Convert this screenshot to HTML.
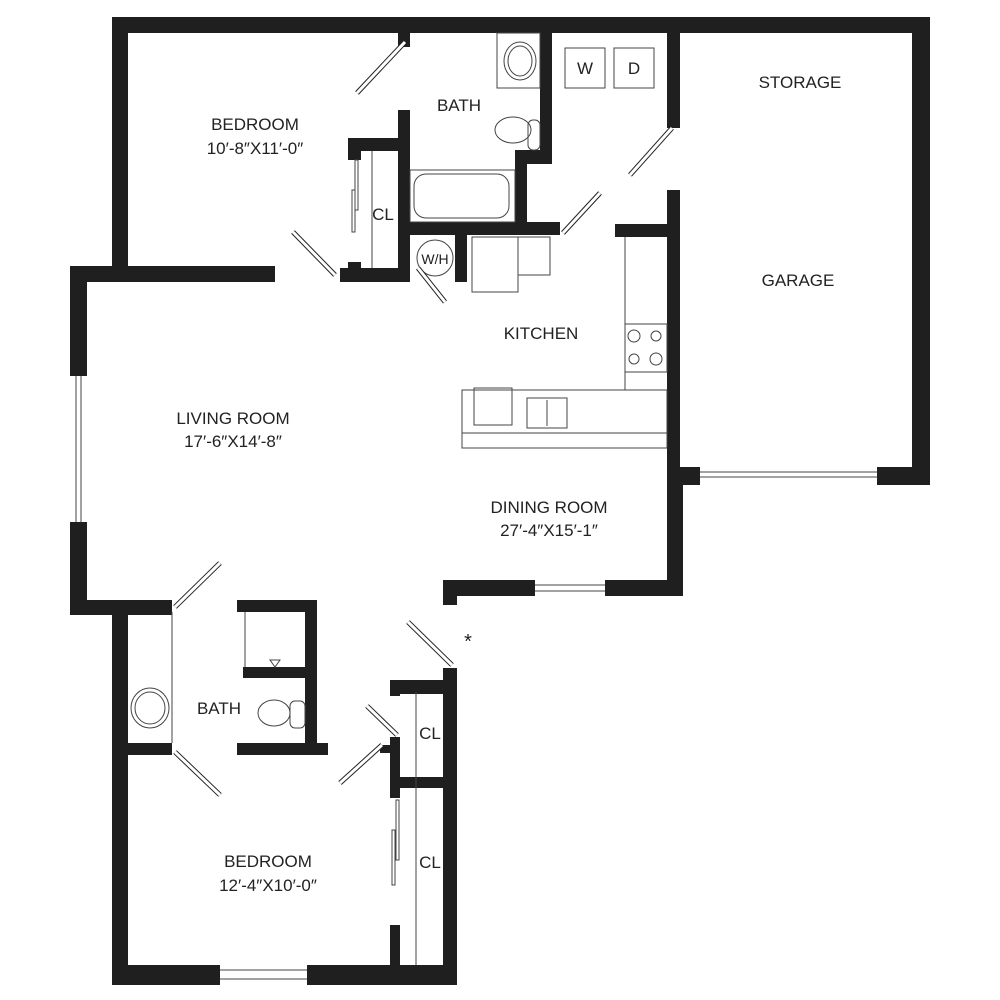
<!DOCTYPE html>
<html><head><style>
body{margin:0;background:#fff}
svg{display:block}
text{font-family:"Liberation Sans",sans-serif;font-size:17px;fill:#222;text-anchor:middle}
</style></head><body>
<svg width="1000" height="1000" viewBox="0 0 1000 1000">
<g fill="#1f1f1f">
<!-- top wall -->
<rect x="112" y="17" width="818" height="16"/>
<rect x="112" y="17" width="16" height="253"/>
<rect x="912" y="17" width="18" height="468"/>
<rect x="70" y="266" width="205" height="16"/>
<rect x="70" y="266" width="17" height="110"/>
<rect x="70" y="522" width="17" height="93"/>
<rect x="70" y="600" width="102" height="15"/>
<!-- top bedroom closet -->
<rect x="398" y="33" width="12" height="14"/>
<rect x="348" y="138" width="62" height="13"/>
<rect x="348" y="138" width="13" height="22"/>
<rect x="398" y="110" width="12" height="172"/>
<rect x="348" y="262" width="13" height="20"/>
<rect x="340" y="268" width="70" height="14"/>
<!-- bath -->
<rect x="540" y="33" width="12" height="127"/>
<rect x="515" y="150" width="37" height="14"/>
<rect x="515" y="150" width="12" height="85"/>
<rect x="398" y="222" width="162" height="13"/>
<rect x="455" y="235" width="12" height="47"/>
<!-- laundry / garage -->
<rect x="667" y="33" width="13" height="95"/>
<rect x="667" y="190" width="13" height="390"/>
<rect x="615" y="224" width="60" height="13"/>
<rect x="667" y="467" width="33" height="18"/>
<rect x="877" y="467" width="53" height="18"/>
<rect x="667" y="485" width="16" height="111"/>
<!-- dining bottom -->
<rect x="443" y="580" width="92" height="16"/>
<rect x="605" y="580" width="78" height="16"/>
<rect x="443" y="596" width="14" height="9"/>
<!-- bottom bedroom -->
<rect x="112" y="600" width="16" height="385"/>
<rect x="128" y="600" width="44" height="12"/>
<rect x="128" y="743" width="44" height="12"/>
<rect x="112" y="965" width="108" height="20"/>
<rect x="307" y="965" width="150" height="20"/>
<rect x="443" y="668" width="14" height="317"/>
<rect x="237" y="600" width="80" height="12"/>
<rect x="305" y="600" width="12" height="155"/>
<rect x="243" y="667" width="74" height="11"/>
<rect x="237" y="743" width="91" height="12"/>
<rect x="390" y="680" width="57" height="14"/>
<rect x="390" y="680" width="10" height="16"/>
<rect x="390" y="777" width="57" height="11"/>
<rect x="390" y="737" width="10" height="61"/>
<rect x="380" y="745" width="20" height="8"/>
<rect x="390" y="925" width="10" height="40"/>
</g>
<!-- windows -->
<g stroke="#444" stroke-width="1" fill="none">
<line x1="76" y1="376" x2="76" y2="522"/><line x1="81" y1="376" x2="81" y2="522"/>
<line x1="700" y1="472" x2="877" y2="472"/><line x1="700" y1="477" x2="877" y2="477"/>
<line x1="535" y1="585" x2="605" y2="585"/><line x1="535" y1="591" x2="605" y2="591"/>
<line x1="220" y1="970" x2="307" y2="970"/><line x1="220" y1="979" x2="307" y2="979"/>
<!-- fixtures -->
<rect x="497" y="33" width="43" height="55"/>
<ellipse cx="520" cy="61" rx="16" ry="19"/><ellipse cx="520" cy="61" rx="12" ry="15"/>
<ellipse cx="513" cy="130" rx="18" ry="13"/><rect x="528" y="120" width="12" height="30" rx="5"/>
<rect x="410" y="170" width="105" height="52"/>
<rect x="414" y="174" width="95" height="44" rx="12"/>
<circle cx="435" cy="258" r="18"/>
<rect x="565" y="48" width="40" height="40"/><rect x="614" y="48" width="40" height="40"/>
<rect x="472" y="237" width="46" height="55"/><rect x="518" y="237" width="32" height="38"/>
<line x1="625" y1="237" x2="625" y2="390"/>
<rect x="625" y="324" width="42" height="48"/>
<circle cx="634" cy="336" r="6"/><circle cx="656" cy="336" r="5"/><circle cx="634" cy="359" r="5"/><circle cx="656" cy="359" r="6"/>
<polyline points="462,390 625,390"/>
<rect x="462" y="390" width="205" height="58"/>
<line x1="462" y1="433" x2="667" y2="433"/>
<rect x="474" y="388" width="38" height="37"/>
<rect x="527" y="398" width="40" height="30"/><line x1="547" y1="400" x2="547" y2="426"/>
<line x1="372" y1="151" x2="372" y2="268"/>
<line x1="416" y1="692" x2="416" y2="965"/>
<line x1="172" y1="612" x2="172" y2="743"/>
<ellipse cx="150" cy="708" rx="19" ry="20"/><ellipse cx="150" cy="708" rx="15" ry="16"/>
<line x1="245" y1="612" x2="245" y2="667"/>
<ellipse cx="274" cy="713" rx="16" ry="13"/><rect x="290" y="701" width="15" height="27" rx="5"/>
<polygon points="270,660 280,660 275,667"/>
<rect x="355" y="160" width="3" height="50"/><rect x="352" y="190" width="3" height="42"/>
<rect x="396" y="800" width="3" height="60"/><rect x="392" y="830" width="3" height="55"/>
</g>
<!-- doors -->
<g stroke-linecap="butt">
<g stroke="#222" stroke-width="5">
<line x1="357" y1="93" x2="405" y2="42"/><line x1="293" y1="232" x2="335" y2="275"/>
<line x1="418" y1="268" x2="445" y2="302"/><line x1="630" y1="175" x2="672" y2="128"/>
<line x1="563" y1="233" x2="600" y2="193"/><line x1="175" y1="607" x2="220" y2="563"/>
<line x1="175" y1="752" x2="220" y2="795"/><line x1="340" y1="783" x2="382" y2="745"/>
<line x1="367" y1="706" x2="397" y2="735"/><line x1="408" y1="622" x2="452" y2="665"/>
</g>
<g stroke="#fff" stroke-width="3">
<line x1="357" y1="93" x2="405" y2="42"/><line x1="293" y1="232" x2="335" y2="275"/>
<line x1="418" y1="268" x2="445" y2="302"/><line x1="630" y1="175" x2="672" y2="128"/>
<line x1="563" y1="233" x2="600" y2="193"/><line x1="175" y1="607" x2="220" y2="563"/>
<line x1="175" y1="752" x2="220" y2="795"/><line x1="340" y1="783" x2="382" y2="745"/>
<line x1="367" y1="706" x2="397" y2="735"/><line x1="408" y1="622" x2="452" y2="665"/>
</g>
</g>
<text x="255" y="130">BEDROOM</text>
<text x="255" y="154">10′-8″X11′-0″</text>
<text x="459" y="111">BATH</text>
<text x="383" y="220">CL</text>
<text x="435" y="264" style="font-size:14px">W/H</text>
<text x="585" y="74">W</text>
<text x="634" y="74">D</text>
<text x="800" y="88">STORAGE</text>
<text x="798" y="286">GARAGE</text>
<text x="541" y="339">KITCHEN</text>
<text x="233" y="424">LIVING ROOM</text>
<text x="233" y="447">17′-6″X14′-8″</text>
<text x="549" y="513">DINING ROOM</text>
<text x="549" y="536">27′-4″X15′-1″</text>
<text x="219" y="714">BATH</text>
<text x="430" y="739">CL</text>
<text x="430" y="868">CL</text>
<text x="268" y="867">BEDROOM</text>
<text x="268" y="891">12′-4″X10′-0″</text>
<text x="468" y="648" style="font-size:20px">*</text>
</svg>
</body></html>
